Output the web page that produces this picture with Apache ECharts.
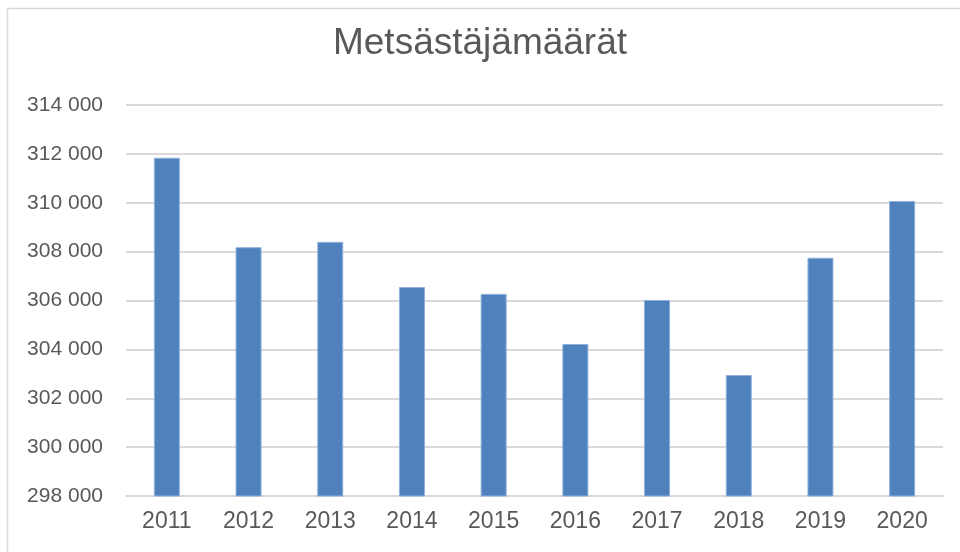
<!DOCTYPE html>
<html>
<head>
	<meta charset="utf-8" />
	<title>Metsästäjämäärät</title>
	<script src="https://cdn.jsdelivr.net/npm/echarts@6/dist/echarts.min.js"></script>
</head>
<body style="padding: 0;margin: 0;background: #fff;">
<div id="main" style="width: 960px;height:552px;"></div>
<script type="text/javascript">
	// vuodet ja metsästäjien määrät (luettu kuvasta)
	var years = ['2011', '2012', '2013', '2014', '2015', '2016', '2017', '2018', '2019', '2020'];
	var hunters = [311840, 308180, 308400, 306550, 306270, 304220, 306020, 302950, 307750, 310070];
	var yMin = 298000, yMax = 314000, yStep = 2000;

	function fmt(v) {
		// tuhaterotin välilyönnillä
		return String(v).replace(/\B(?=(\d{3})+(?!\d))/g, ' ');
	}

	var myChart = echarts.init(document.getElementById('main'));
	var option = {
		animation: false,
		title: {
			text: 'Metsästäjämäärät',
			left: 'center',
			top: 20,
			textStyle: {
				fontFamily: 'Liberation Sans',
				fontSize: 37,
				fontWeight: 'normal',
				color: '#595959'
			}
		},
		graphic: [{
			type: 'rect',
			shape: { x: 7.5, y: 8.5, width: 1000, height: 700 },
			style: { fill: 'none', stroke: '#d9d9d9', lineWidth: 1.5 },
			silent: true
		}],
		grid: {
			left: 126,
			right: 17,
			top: 105,
			bottom: 56
		},
		xAxis: {
			type: 'category',
			data: years,
			axisTick: { show: false },
			axisLine: { show: true, lineStyle: { color: '#d9d9d9', width: 2 } },
			axisLabel: {
				margin: 14,
				fontFamily: 'Liberation Sans',
				fontSize: 23,
				color: '#595959'
			}
		},
		yAxis: {
			type: 'value',
			min: yMin,
			max: yMax,
			interval: yStep,
			axisLine: { show: false },
			axisTick: { show: false },
			splitLine: { lineStyle: { color: '#d9d9d9', width: 2 } },
			axisLabel: {
				margin: 23,
				fontFamily: 'Liberation Sans',
				fontSize: 21,
				color: '#595959',
				formatter: fmt
			}
		},
		series: [{
			type: 'bar',
			data: hunters,
			barWidth: 26,
			itemStyle: {
				color: '#4f81bd',
				borderColor: '#8fb0dc',
				borderWidth: 1
			}
		}]
	};
	myChart.setOption(option);
</script>
</body>
</html>
